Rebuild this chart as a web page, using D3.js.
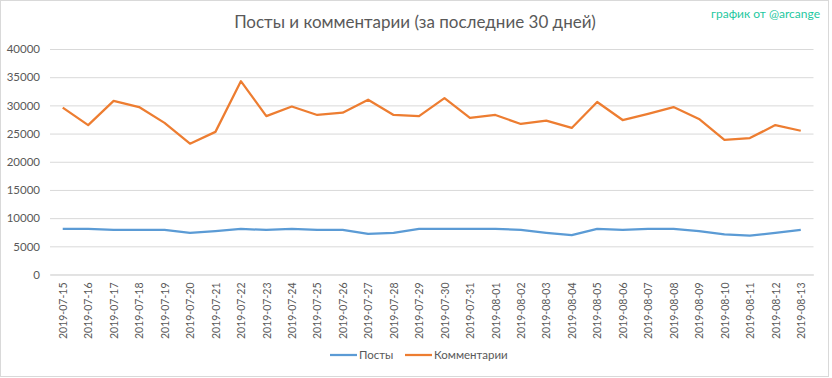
<!DOCTYPE html>
<html>
<head>
<meta charset="utf-8">
<script src="https://cdn.jsdelivr.net/npm/d3@7"></script>
<style>
  body { margin: 0; background: #fff; }
  text { font-family: Lato, "Open Sans", sans-serif; }
</style>
</head>
<body>
<div id="chart"></div>
<script>
var dates = ["2019-07-15","2019-07-16","2019-07-17","2019-07-18","2019-07-19","2019-07-20","2019-07-21","2019-07-22","2019-07-23","2019-07-24",
             "2019-07-25","2019-07-26","2019-07-27","2019-07-28","2019-07-29","2019-07-30","2019-07-31","2019-08-01","2019-08-02","2019-08-03",
             "2019-08-04","2019-08-05","2019-08-06","2019-08-07","2019-08-08","2019-08-09","2019-08-10","2019-08-11","2019-08-12","2019-08-13"];
var posts = [8100,8100,7900,7900,7900,7400,7700,8100,7900,8100,
             7900,7900,7200,7400,8100,8100,8100,8100,7900,7400,
             7000,8100,7900,8100,8100,7700,7100,6900,7400,7900];
var comments = [29600,26500,30800,29700,26900,23200,25300,34300,28100,29800,
                28300,28700,31000,28300,28100,31300,27800,28300,26700,27300,
                26000,30600,27400,28500,29700,27600,23900,24200,26500,25500];
var yTicks = [0,5000,10000,15000,20000,25000,30000,35000,40000];
var seriesNames = ["Посты", "Комментарии"];
var seriesColors = ["#5b9bd5", "#ed7d31"];

var svg = d3.select("#chart").append("svg").attr("width", 832).attr("height", 378),
    margin = {top: 49, right: 18.5, bottom: 103.5, left: 50},
    width = 832 - margin.left - margin.right,
    height = 378 - margin.top - margin.bottom;

// chart frame
svg.append("rect")
    .attr("x", 0.5).attr("y", 0.5)
    .attr("width", 828).attr("height", 376)
    .attr("fill", "#fff").attr("stroke", "#d9d9d9");

svg.append("text")
    .attr("x", 415).attr("y", 28)
    .attr("text-anchor", "middle")
    .attr("fill", "#595959")
    .style("font-size", "17px")
    .text("Посты и комментарии (за последние 30 дней)");

svg.append("text")
    .attr("x", 820).attr("y", 18)
    .attr("text-anchor", "end")
    .attr("fill", "#1ec8a0")
    .style("font-size", "12px")
    .text("график от @arcange");

var g = svg.append("g").attr("transform", "translate(" + margin.left + "," + margin.top + ")");

var x = d3.scalePoint().domain(dates).range([0, width]).padding(0.5),
    y = d3.scaleLinear().domain([0, 40000]).range([height, 0]);

// gridlines
g.append("g")
    .attr("class", "grid")
    .call(d3.axisLeft(y).tickValues(yTicks).tickSize(-width).tickFormat(""))
    .call(function(s) {
        s.select(".domain").remove();
        s.selectAll("line").attr("stroke", "#d9d9d9");
    });

// y axis labels
g.append("g")
    .call(d3.axisLeft(y).tickValues(yTicks).tickSize(0).tickPadding(10).tickFormat(d3.format("d")))
    .call(function(s) {
        s.select(".domain").remove();
        s.selectAll("text").attr("fill", "#595959").style("font-size", "11.5px");
    });

// x axis labels
g.append("g")
    .attr("transform", "translate(0," + height + ")")
    .call(d3.axisBottom(x).tickSize(0))
    .call(function(s) {
        s.select(".domain").attr("stroke", "#d9d9d9");
        s.selectAll("text")
            .attr("fill", "#595959")
            .style("font-size", "10.5px")
            .attr("text-anchor", "end")
            .attr("transform", "rotate(-90)")
            .attr("x", -8)
            .attr("y", 0)
            .attr("dy", "0.35em");
    });

var line = d3.line()
    .x(function(d, i) { return x(dates[i]); })
    .y(function(d) { return y(d); });

[posts, comments].forEach(function(data, i) {
    g.append("path")
        .datum(data)
        .attr("fill", "none")
        .attr("stroke", seriesColors[i])
        .attr("stroke-width", 2.25)
        .attr("stroke-linejoin", "round")
        .attr("d", line);
});

// legend
var legendX = [330, 405];
var legend = svg.append("g").attr("transform", "translate(0,355)");
seriesNames.forEach(function(name, i) {
    legend.append("line")
        .attr("x1", legendX[i]).attr("x2", legendX[i] + 27)
        .attr("y1", 0).attr("y2", 0)
        .attr("stroke", seriesColors[i])
        .attr("stroke-width", 2.25);
    legend.append("text")
        .attr("x", legendX[i] + 29).attr("y", 0)
        .attr("dy", "0.35em")
        .attr("fill", "#595959")
        .style("font-size", "11.5px")
        .text(name);
});
</script>
</body>
</html>
